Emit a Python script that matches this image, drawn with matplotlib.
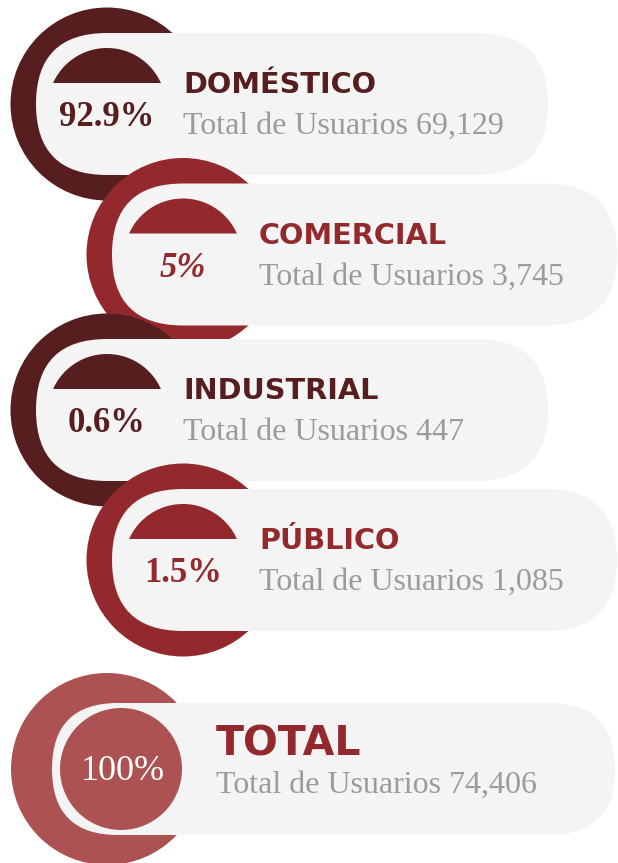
import numpy as np
import matplotlib
matplotlib.use('Agg')
import matplotlib.pyplot as plt
from matplotlib.patches import Circle, FancyBboxPatch, Polygon

categories = ['DOMÉSTICO', 'COMERCIAL', 'INDUSTRIAL', 'PÚBLICO']
pct_labels = ['92.9%', '5%', '0.6%', '1.5%']
pct_styles = ['normal', 'italic', 'normal', 'normal']
usuarios = [69129, 3745, 447, 1085]
total_label = 'TOTAL'
total_pct = '100%'
total_usuarios = 74406

# Colours
dark = '#561e1e'
red = '#93292d'
light = '#ad5252'
pill_col = '#f4f4f4'
sub_col = '#9b9b9b'
row_colors = [dark, red, dark, red]

# Layout (pixels, y grows downwards)
row_cx = [107, 183, 107, 183]
row_cy = [104, 254.5, 410, 560]
row_right = [548, 617, 548, 617]
half_h = 71
outer_r = 96.5

fig = plt.figure(figsize=(6.18, 8.63), dpi=100)
ax = fig.add_axes([0, 0, 1, 1])
ax.set_xlim(0, 618)
ax.set_ylim(863, 0)
ax.set_aspect('equal')
ax.axis('off')

title_font = 'DejaVu Sans'
serif = 'Liberation Serif'


def pill(x_left_center, cy, hh, right, z):
    p = FancyBboxPatch((x_left_center - hh, cy - hh), right - (x_left_center - hh), 2 * hh,
                       boxstyle=f'round,pad=0,rounding_size={hh}',
                       fc=pill_col, ec='none', zorder=z)
    ax.add_patch(p)


def cap(cx, cy, color, z):
    # top segment of a circle, cut by a flat line
    r = 59
    ccy = cy + 3
    flat = cy - 21
    a = np.arcsin((ccy - flat) / r)
    t = np.linspace(a, np.pi - a, 80)
    xs = cx + r * np.cos(t)
    ys = ccy - r * np.sin(t)
    ax.add_patch(Polygon(np.column_stack([xs, ys]), closed=True, fc=color, ec='none', zorder=z))


for i, cat in enumerate(categories):
    z = i * 10
    cx, cy, col = row_cx[i], row_cy[i], row_colors[i]
    ax.add_patch(Circle((cx, cy), outer_r, fc=col, ec='none', zorder=z + 1))
    pill(cx, cy, half_h, row_right[i], z + 2)
    cap(cx, cy, col, z + 3)
    ax.text(cx, cy + 22, pct_labels[i], ha='center', va='baseline', color=col,
            fontsize=25, fontweight='bold', family=serif, style=pct_styles[i], zorder=z + 4)
    ax.text(cx + 76, cy - 11, cat, ha='left', va='baseline', color=col,
            fontsize=20.7, fontweight='bold', family=title_font, zorder=z + 4)
    ax.text(cx + 76, cy + 30, f'Total de Usuarios {usuarios[i]:,}', ha='left', va='baseline',
            color=sub_col, fontsize=23, family=serif, zorder=z + 4)

# Total row
z = 50
ax.add_patch(Circle((107, 769), 96, fc=light, ec='none', zorder=z + 1))
pill(118, 769, 66, 615, z + 2)
ax.add_patch(Circle((121, 769), 61, fc=light, ec='none', zorder=z + 3))
ax.text(123, 780, total_pct, ha='center', va='baseline', color='white',
        fontsize=26, family=serif, zorder=z + 4)
ax.text(216, 755, total_label, ha='left', va='baseline', color=red,
        fontsize=29.5, fontweight='bold', family=title_font, zorder=z + 4)
ax.text(216, 793, f'Total de Usuarios {total_usuarios:,}', ha='left', va='baseline',
        color=sub_col, fontsize=23, family=serif, zorder=z + 4)

fig.savefig('out.png', dpi=100)
